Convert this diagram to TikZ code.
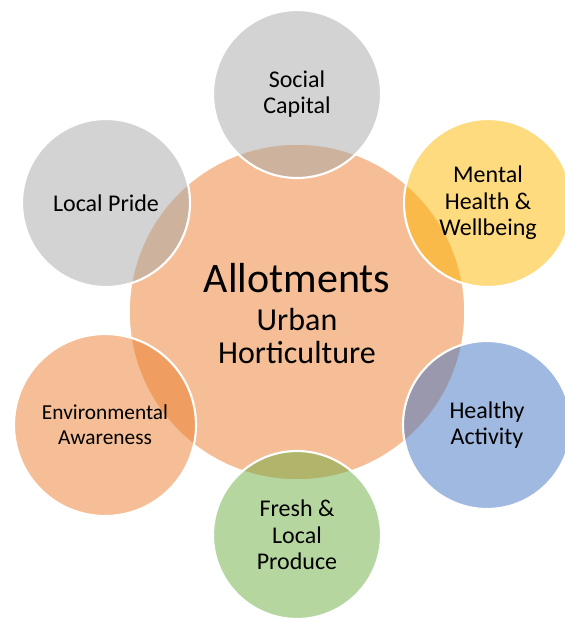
\documentclass[tikz,border=0pt]{standalone}
\usepackage{fontspec}
\setmainfont{Carlito}
\definecolor{hubfill}{RGB}{245,190,150}
\definecolor{greyfill}{RGB}{167,167,167}
\definecolor{yellowfill}{RGB}{255,183,0}
\definecolor{bluefill}{RGB}{65,115,195}
\definecolor{greenfill}{RGB}{109,173,65}
\definecolor{orangefill}{RGB}{235,125,45}
\tikzset{
  hub/.style={circle, fill=hubfill, draw=white, line width=1.2pt, minimum size=336*0.75pt, inner sep=0pt},
  spoke/.style={circle, draw=white, line width=1.6pt, fill opacity=0.5, draw opacity=1, text opacity=1,
    minimum size=168*0.75pt, inner sep=0pt, align=center, font=\fontsize{18}{19.8}\selectfont},
  hubtext/.style={anchor=base, inner sep=0pt},
}
\begin{document}
\begin{tikzpicture}[x=0.75pt, y=-0.75pt]
  \useasboundingbox (0,0) rectangle (565,619);
  % central circle
  \node[hub] (hub) at (297,312) {};
  % surrounding circles
  \node[spoke, fill=greyfill] (social) at (297,94) {Social\\Capital};
  \node[spoke, fill=greyfill] (pride) at (106,203) {Local Pride};
  \node[spoke, fill=yellowfill] (mental) at (488,203) {Mental\\Health \&\\Wellbeing};
  \node[spoke, fill=bluefill] (active) at (487,425) {Healthy\\Activity};
  \node[spoke, fill=greenfill] (fresh) at (297,535) {Fresh \&\\Local\\Produce};
  \node[spoke, fill=orangefill, minimum size=182*0.75pt, font=\fontsize{16}{18.8}\selectfont]
    (env) at (105,425) {Environmental\\Awareness};
  % central label, one node per line
  \node[hubtext, font=\fontsize{31.5}{34}\selectfont] (title) at (297,292) {Allotments};
  \node[hubtext, font=\fontsize{24}{26}\selectfont] (sub1) at (297,330) {Urban};
  \node[hubtext, font=\fontsize{24}{26}\selectfont] (sub2) at (297,363) {Horticulture};
\end{tikzpicture}
\end{document}
